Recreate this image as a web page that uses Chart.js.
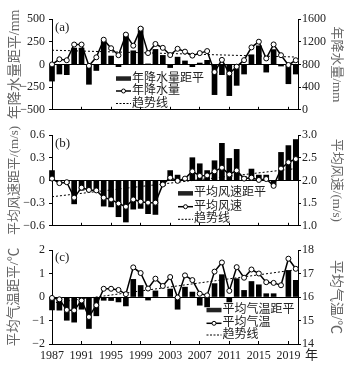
<!DOCTYPE html>
<html>
<head>
<meta charset="utf-8">
<script src="https://cdn.jsdelivr.net/npm/chart.js@4.4.1/dist/chart.umd.min.js"></script>
<style>
  body { margin: 0; background: #fff; width: 351px; height: 372px; position: relative; overflow: hidden; }
  canvas { position: absolute; left: 0; }
</style>
</head>
<body>
<canvas id="chartA" width="351" height="121" style="top:0px"></canvas>
<canvas id="chartB" width="351" height="116" style="top:121px"></canvas>
<canvas id="chartC" width="351" height="135" style="top:237px"></canvas>
<script>
// years on the x axis
const years = [1987,1988,1989,1990,1991,1992,1993,1994,1995,1996,1997,1998,1999,2000,2001,2002,2003,
               2004,2005,2006,2007,2008,2009,2010,2011,2012,2013,2014,2015,2016,2017,2018,2019,2020];
const yearTicks = [1987,1991,1995,1999,2003,2007,2011,2015,2019];
const trendYears = [1987, 2020];

// (a) precipitation
const precipAnom = [-184,-106,-113,180,180,-219,-67,262,92,-25,335,150,405,5,165,99,-35,
                    80,38,-25,15,45,-333,-113,-344,-231,-106,106,205,-85,163,-18,-213,-106];
const precip = [800,890,873,1150,1150,775,925,1235,1085,962,1325,1130,1430,1000,1160,1092,965,
                1075,1025,955,999,1035,665,880,640,760,875,1100,1200,905,1152,962,790,873];
const precipTrend = [1050, 930];
const anomTicksA = [-500,-250,0,250,500];
const valTicksA = [0,400,800,1200,1600];

// (b) wind speed
const windAnom = [0.13,-0.02,-0.04,-0.31,-0.13,-0.14,-0.15,-0.34,-0.35,-0.48,-0.55,-0.38,-0.37,-0.44,-0.45,-0.07,0.13,
                  0.07,0.03,0.30,0.22,0.13,0.26,0.49,0.29,0.41,0.05,0.15,0.07,0.07,-0.06,0.37,0.46,0.54];
const wind = [2.04,1.94,1.96,1.62,1.84,1.79,1.78,1.62,1.58,1.49,1.42,1.58,1.53,1.51,1.51,1.91,2.06,
              1.99,2.04,2.20,2.10,2.11,2.20,2.28,2.13,2.22,2.04,2.06,2.01,2.03,1.88,2.26,2.40,2.47];
const windTrend = [1.64, 2.26];
const anomTicksB = [-0.6,-0.3,0,0.3,0.6];
const valTicksB = [1.0,1.5,2.0,2.5,3.0];

// (c) temperature
const tempAnom = [-0.55,-0.56,-0.99,-1.07,-0.52,-1.34,-0.80,-0.14,-0.15,-0.21,-0.38,0.75,0.49,-0.13,0.26,-0.03,0.34,
                  -0.52,0.42,0.21,-0.35,-0.42,0.57,0.95,-0.21,0.78,0.28,0.66,0.52,0.14,0.14,-0.03,1.13,0.71];
const temp = [15.96,15.9,15.45,15.43,15.85,15.15,15.65,16.35,16.35,16.3,16.12,17.26,17.02,16.36,16.78,16.47,16.85,
              15.98,16.92,16.72,16.14,16.07,17.08,17.47,16.26,17.27,16.82,17.17,17.0,16.63,16.6,16.5,17.63,17.2];
const tempTrend = [15.74, 17.16];
const anomTicksC = [-2,-1,0,1,2];
const valTicksC = [14,15,16,17,18];

const FONT = '"Liberation Serif", "Noto Sans CJK SC", serif';
Chart.defaults.font.family = FONT;

const minus = s => s.replace('-', '\u2212');

// panel tag, legend and x unit drawn on top of the chart
const decor = {
  id: 'decor',
  afterDatasetsDraw(chart, args, o) {
    const ctx = chart.ctx;
    const ds = chart.data.datasets;
    ctx.save();
    ctx.fillStyle = '#222';
    ctx.textBaseline = 'middle';
    ctx.font = '13px ' + FONT;
    ctx.fillText(o.tag, o.tagX, o.tagY);
    if (o.unit) ctx.fillText(o.unit, o.unitX, o.unitY);

    const x0 = o.legX;
    ctx.font = '12px ' + FONT;
    // bar entry
    ctx.fillRect(x0, o.legY[0] - 2.2, 15, 4.5);
    ctx.fillText(ds[2].label, x0 + 16, o.legY[0]);
    // line entry
    ctx.strokeStyle = '#000';
    ctx.lineWidth = 1.5;
    ctx.beginPath(); ctx.moveTo(x0, o.legY[1]); ctx.lineTo(x0 + 15, o.legY[1]); ctx.stroke();
    ctx.lineWidth = 1;
    ctx.beginPath(); ctx.arc(x0 + 7.5, o.legY[1], 2, 0, Math.PI * 2);
    ctx.fillStyle = '#fff'; ctx.fill(); ctx.stroke();
    ctx.fillStyle = '#222';
    ctx.fillText(ds[0].label, x0 + 16, o.legY[1]);
    // trend entry
    ctx.setLineDash([2, 1.5]);
    ctx.beginPath(); ctx.moveTo(x0, o.legY[2]); ctx.lineTo(x0 + 15, o.legY[2]); ctx.stroke();
    ctx.setLineDash([]);
    ctx.fillText(ds[1].label, x0 + 16, o.legY[2]);
    ctx.restore();
  }
};

function makePanel(id, p) {
  const pts = arr => years.map((yr, i) => ({x: yr, y: arr[i]}));
  new Chart(document.getElementById(id), {
    type: 'bar',
    data: {
      datasets: [
        { type: 'line', label: p.names[1], data: pts(p.val), yAxisID: 'yR',
          borderColor: '#000', borderWidth: 1.5, pointRadius: 2.5,
          pointBackgroundColor: '#fff', pointBorderColor: '#000', pointBorderWidth: 1,
          order: 0, clip: false },
        { type: 'line', label: '趋势线', data: trendYears.map((yr, i) => ({x: yr, y: p.trend[i]})),
          yAxisID: 'yR', borderColor: '#000', borderWidth: 1, borderDash: [2, 2], pointRadius: 0, order: 1 },
        { label: p.names[0], data: pts(p.anom), yAxisID: 'yL',
          backgroundColor: '#000', barThickness: 5, order: 2, clip: false }
      ]
    },
    options: {
      responsive: false,
      animation: false,
      layout: { padding: { top: p.padTop, left: 0, right: 0, bottom: 0 } },
      plugins: { legend: { display: false }, tooltip: { enabled: false }, decor: p.decor },
      scales: {
        x: {
          type: 'linear', min: 1987, max: 2020.3, offset: false,
          afterFit: s => { s.height = p.xh; },
          afterBuildTicks: s => { s.ticks = yearTicks.map(v => ({value: v})); },
          grid: { offset: false, drawOnChartArea: false, tickLength: -3, tickColor: '#000' },
          border: { color: '#000', width: 1 },
          ticks: { display: p.showYears, padding: 8, color: '#222', font: { size: 12 },
                   maxRotation: 0, autoSkip: false, callback: v => String(v) }
        },
        yL: {
          position: 'left', min: p.anomTicks[0], max: p.anomTicks[p.anomTicks.length - 1],
          afterFit: s => { s.width = 52; },
          afterBuildTicks: s => { s.ticks = p.anomTicks.map(v => ({value: v})); },
          grid: { color: c => (c.tick && c.tick.value === 0) ? '#000' : 'rgba(0,0,0,0)',
                  tickColor: '#000', tickLength: 3 },
          border: { color: '#000', width: 1 },
          ticks: { padding: 4, color: '#222', font: { size: 12 }, callback: v => minus(String(v)) },
          title: { display: true, text: p.titles[0], color: '#666',
                   font: { size: p.titleSize[0] }, padding: { top: 6.5, bottom: 0 } }
        },
        yR: {
          position: 'right', min: p.valTicks[0], max: p.valTicks[p.valTicks.length - 1],
          afterFit: s => { s.width = 53; },
          afterBuildTicks: s => { s.ticks = p.valTicks.map(v => ({value: v})); },
          grid: { drawOnChartArea: false, tickColor: '#000', tickLength: 3 },
          border: { color: '#000', width: 1 },
          ticks: { padding: 1, color: '#222', font: { size: 12 }, callback: p.valFmt },
          title: { display: true, text: p.titles[1], color: '#666',
                   font: { size: p.titleSize[1] }, padding: { top: 7, bottom: 0 } }
        }
      }
    },
    plugins: [decor]
  });
}

makePanel('chartA', {
  anom: precipAnom, val: precip, trend: precipTrend,
  anomTicks: anomTicksA, valTicks: valTicksA, valFmt: v => String(v),
  names: ['年降水量距平', '年降水量'], titles: ['年降水量距平/mm', '年降水量/mm'], titleSize: [14, 13],
  padTop: 19, xh: 8, showYears: false,
  decor: { tag: '(a)', tagX: 55, tagY: 27.5, legX: 116, legY: [78.5, 91, 103.5] }
});

makePanel('chartB', {
  anom: windAnom, val: wind, trend: windTrend,
  anomTicks: anomTicksB, valTicks: valTicksB, valFmt: v => v.toFixed(1),
  names: ['平均风速距平', '平均风速'], titles: ['平均风速距平/(m/s)', '平均风速/(m/s)'], titleSize: [13, 13],
  padTop: 14, xh: 8, showYears: false,
  decor: { tag: '(b)', tagX: 55, tagY: 23, legX: 178, legY: [72.3, 85.7, 98.3] }
});

makePanel('chartC', {
  anom: tempAnom, val: temp, trend: tempTrend,
  anomTicks: anomTicksC, valTicks: valTicksC, valFmt: v => String(v),
  names: ['平均气温距平', '平均气温'], titles: ['平均气温距平/℃', '平均气温/℃'], titleSize: [13.5, 14],
  padTop: 13, xh: 28, showYears: true,
  decor: { tag: '(c)', tagX: 55, tagY: 20.5, legX: 206.5, legY: [73, 86.3, 98],
           unit: '年', unitX: 305, unitY: 119 }
});
</script>
</body>
</html>
